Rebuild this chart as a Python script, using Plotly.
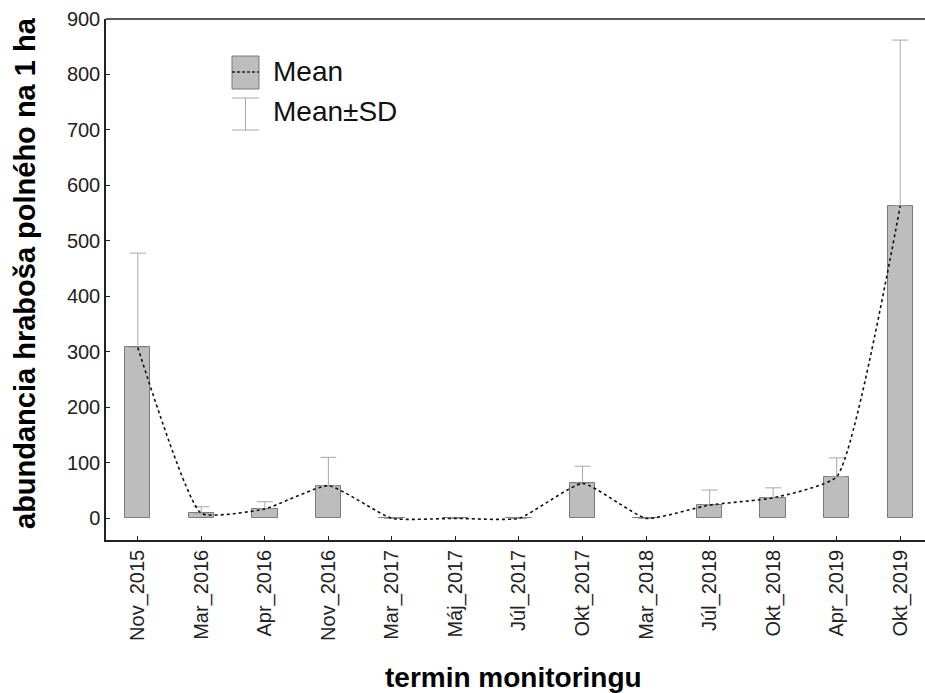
import plotly.graph_objects as go

# Monitoring dates and vole abundance per hectare
terms = ["Nov_2015", "Mar_2016", "Apr_2016", "Nov_2016", "Mar_2017", "Máj_2017",
         "Júl_2017", "Okt_2017", "Mar_2018", "Júl_2018", "Okt_2018", "Apr_2019", "Okt_2019"]
mean_vals = [308, 9, 17, 59, 0, 0, 0, 63, 0, 24, 37, 75, 563]
sd_vals = [170, 12, 13, 51, 0, 0, 0, 31, 0, 27, 18, 34, 299]

y_ticks = [0, 100, 200, 300, 400, 500, 600, 700, 800, 900]

W, H = 925, 693
ML, MR, MT, MB = 106, 0, 19, 153
PW, PH = W - ML - MR, H - MT - MB

FONT = "Liberation Sans, Arial, sans-serif"
BAR_FILL = "#bdbdbd"
BAR_EDGE = "#7a7a7a"
ERR_COL = "#a8a8a8"


def px(x):
    return (x - ML) / PW


def py(y):
    return (H - MB - y) / PH


fig = go.Figure()

fig.add_trace(go.Bar(
    x=list(range(len(terms))), y=mean_vals, width=0.4,
    marker=dict(color=BAR_FILL, line=dict(color=BAR_EDGE, width=1)),
    error_y=dict(type="data", symmetric=False, array=sd_vals,
                 arrayminus=[0] * len(sd_vals), color=ERR_COL,
                 thickness=1, width=8),
    showlegend=False,
))

fig.add_trace(go.Scatter(
    x=list(range(len(terms))), y=mean_vals, mode="lines",
    line=dict(color="#111111", width=1.6, dash="3px,3px",
              shape="spline", smoothing=0.45),
    showlegend=False,
))

shapes = [
    # top frame line
    dict(type="line", xref="paper", yref="paper", x0=0, x1=1, y0=1, y1=1,
         line=dict(color="#222222", width=1.5)),
    # legend: bar swatch with dashed mean line
    dict(type="rect", xref="paper", yref="paper",
         x0=px(232), x1=px(259), y0=py(89), y1=py(56),
         fillcolor=BAR_FILL, line=dict(color=BAR_EDGE, width=1)),
    dict(type="line", xref="paper", yref="paper",
         x0=px(232), x1=px(259), y0=py(72), y1=py(72),
         line=dict(color="#222222", width=1.3, dash="3px,2px")),
    # legend: error bar symbol
    dict(type="line", xref="paper", yref="paper",
         x0=px(245.5), x1=px(245.5), y0=py(98), y1=py(130),
         line=dict(color=ERR_COL, width=1)),
    dict(type="line", xref="paper", yref="paper",
         x0=px(232), x1=px(259), y0=py(98), y1=py(98),
         line=dict(color=ERR_COL, width=1)),
    dict(type="line", xref="paper", yref="paper",
         x0=px(232), x1=px(259), y0=py(130), y1=py(130),
         line=dict(color=ERR_COL, width=1)),
]

annotations = [
    dict(text="Mean", xref="paper", yref="paper", x=px(271), y=py(71),
         xanchor="left", yanchor="middle", showarrow=False,
         font=dict(family=FONT, size=28, color="#111111")),
    dict(text="Mean±SD", xref="paper", yref="paper", x=px(271), y=py(112),
         xanchor="left", yanchor="middle", showarrow=False,
         font=dict(family=FONT, size=28, color="#111111")),
    dict(text="<b>abundancia hraboša polného na 1 ha</b>", xref="paper", yref="paper",
         x=px(25), y=py(273), xanchor="center", yanchor="middle", textangle=-90,
         showarrow=False, font=dict(family=FONT, size=29, color="#000000")),
    dict(text="<b>termin monitoringu</b>", xref="paper", yref="paper",
         x=px(513), y=py(677), xanchor="center", yanchor="middle",
         showarrow=False, font=dict(family=FONT, size=28, color="#000000")),
]

fig.update_layout(
    width=W, height=H,
    margin=dict(l=ML, r=MR, t=MT, b=MB, pad=0),
    paper_bgcolor="white", plot_bgcolor="white",
    font=dict(family=FONT, size=20, color="#222222"),
    shapes=shapes, annotations=annotations,
    bargap=0,
)

fig.update_xaxes(
    range=[-0.5, 12.39], tickmode="array",
    tickvals=list(range(len(terms))), ticktext=terms, tickangle=-90,
    ticks="inside", ticklen=4, tickcolor="#222222", tickwidth=1.3,
    showline=True, linecolor="#222222", linewidth=1.5,
    showgrid=False, zeroline=False,
    tickfont=dict(family=FONT, size=20, color="#222222"),
)
fig.update_yaxes(
    range=[-39, 900], tickmode="array", tickvals=y_ticks,
    ticks="inside", ticklen=4, tickcolor="#222222", tickwidth=1.3,
    showline=True, linecolor="#222222", linewidth=1.5,
    showgrid=False, zeroline=False,
    tickfont=dict(family=FONT, size=20, color="#222222"),
)

fig.write_html("out.html")
